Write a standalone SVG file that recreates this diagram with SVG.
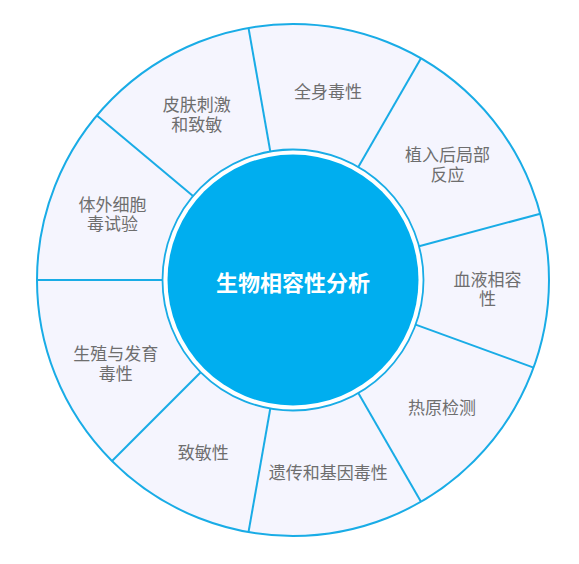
<svg xmlns="http://www.w3.org/2000/svg" width="579" height="564" viewBox="0 0 579 564">
  <style>
    .seg { font-family: "Noto Sans CJK SC", "Liberation Sans", sans-serif; font-size: 17px; fill: #6e6e6e; text-anchor: middle; dominant-baseline: central; }
    .title { font-family: "Noto Sans CJK SC", "Liberation Sans", sans-serif; font-size: 22px; font-weight: bold; fill: #ffffff; text-anchor: middle; dominant-baseline: central; }
    .div { stroke: #19ace6; stroke-width: 2; fill: none; }
  </style>
  <rect x="0" y="0" width="579" height="564" fill="#ffffff"/>
  <g id="outer-ring">
    <circle cx="293" cy="280" r="256" fill="#f5f5fe" stroke="#19ace6" stroke-width="2"/>
  </g>
  <g id="connectors">
    <line class="div" x1="193.0" y1="196.1" x2="96.9" y2="115.4"/>
    <line class="div" x1="270.3" y1="151.5" x2="248.5" y2="27.9"/>
    <line class="div" x1="358.3" y1="167.0" x2="421" y2="58.3"/>
    <line class="div" x1="419.1" y1="246.2" x2="540.3" y2="213.7"/>
    <line class="div" x1="415.6" y1="324.6" x2="533.6" y2="367.6"/>
    <line class="div" x1="358.3" y1="393.0" x2="421" y2="501.7"/>
    <line class="div" x1="270.3" y1="408.5" x2="248.5" y2="532.1"/>
    <line class="div" x1="200.7" y1="372.3" x2="112" y2="461"/>
    <line class="div" x1="162.5" y1="280" x2="37" y2="280"/>
  </g>
  <g id="center">
    <circle cx="293" cy="280" r="130.5" fill="#ffffff" stroke="#19ace6" stroke-width="1.8"/>
    <circle cx="293" cy="280" r="125.5" fill="#00aeef"/>
    <text class="title" x="293" y="281">生物相容性分析</text>
  </g>
  <g id="node-quanshen"><text class="seg" x="328" y="90">全身毒性</text></g>
  <g id="node-zhiru">
    <text class="seg" x="447.5" y="153"><tspan x="447.5" y="153">植入后局部</tspan><tspan x="447.5" y="173">反应</tspan></text>
  </g>
  <g id="node-xueye">
    <text class="seg" x="487.5" y="278"><tspan x="487.5" y="278">血液相容</tspan><tspan x="487.5" y="297">性</tspan></text>
  </g>
  <g id="node-reyuan"><text class="seg" x="442" y="406">热原检测</text></g>
  <g id="node-yichuan"><text class="seg" x="328.3" y="471.5">遗传和基因毒性</text></g>
  <g id="node-zhimin"><text class="seg" x="203.3" y="451.5">致敏性</text></g>
  <g id="node-shengzhi">
    <text class="seg" x="115.8" y="351.5"><tspan x="115.8" y="351.5">生殖与发育</tspan><tspan x="115.8" y="371.5">毒性</tspan></text>
  </g>
  <g id="node-tiwai">
    <text class="seg" x="112.5" y="203"><tspan x="112.5" y="203">体外细胞</tspan><tspan x="112.5" y="222">毒试验</tspan></text>
  </g>
  <g id="node-pifu">
    <text class="seg" x="196.7" y="103"><tspan x="196.7" y="103">皮肤刺激</tspan><tspan x="196.7" y="123">和致敏</tspan></text>
  </g>
</svg>
